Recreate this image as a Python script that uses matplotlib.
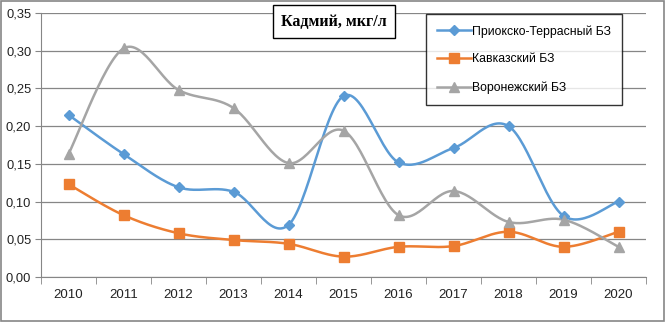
import numpy as np
import matplotlib
matplotlib.use("Agg")
import matplotlib.pyplot as plt
from matplotlib.lines import Line2D
from matplotlib.patches import Rectangle

years = ["2010", "2011", "2012", "2013", "2014", "2015", "2016", "2017", "2018", "2019", "2020"]
prioksko = [0.215, 0.163, 0.119, 0.113, 0.069, 0.240, 0.152, 0.171, 0.200, 0.081, 0.100]
kavkazsky = [0.123, 0.082, 0.058, 0.049, 0.044, 0.027, 0.040, 0.041, 0.060, 0.040, 0.060]
voronezh = [0.163, 0.303, 0.248, 0.224, 0.151, 0.194, 0.082, 0.114, 0.073, 0.076, 0.040]
names = ["Приокско-Террасный БЗ", "Кавказский БЗ", "Воронежский БЗ"]
colors = ["#5B9BD5", "#ED7D31", "#A5A5A5"]
markers = ["D", "s", "^"]
msizes = [5, 7, 7]
yticks = [0.00, 0.05, 0.10, 0.15, 0.20, 0.25, 0.30, 0.35]

plt.rcParams['font.family'] = ['Liberation Sans', 'DejaVu Sans']


def smooth(x, y, n=30):
    # Excel-like smoothing: Catmull-Rom Bezier through points
    x = np.asarray(x, float); y = np.asarray(y, float)
    px = np.concatenate([[x[0]], x, [x[-1]]])
    py = np.concatenate([[y[0]], y, [y[-1]]])
    xs, ys = [], []
    t = np.linspace(0, 1, n)
    for i in range(1, len(px) - 2):
        p0 = np.array([px[i], py[i]]); p3 = np.array([px[i + 1], py[i + 1]])
        c1 = p0 + (np.array([px[i + 1], py[i + 1]]) - np.array([px[i - 1], py[i - 1]])) / 6
        c2 = p3 - (np.array([px[i + 2], py[i + 2]]) - np.array([px[i], py[i]])) / 6
        b = ((1 - t) ** 3)[:, None] * p0 + (3 * (1 - t) ** 2 * t)[:, None] * c1 + \
            (3 * (1 - t) * t ** 2)[:, None] * c2 + (t ** 3)[:, None] * p3
        xs.extend(b[:, 0]); ys.extend(b[:, 1])
    return np.array(xs), np.array(ys)


W, H = 665, 322
fig = plt.figure(figsize=(W / 100, H / 100), dpi=100)
ax = fig.add_axes([41 / W, 1 - 277 / H, 605 / W, 264 / H])
x = np.arange(len(years))
for vals, c, m, ms, nm in zip([prioksko, kavkazsky, voronezh], colors, markers, msizes, names):
    sx, sy = smooth(x, vals)
    ax.plot(sx, sy, color=c, lw=1.8, zorder=3)
    ax.plot(x, vals, ls='none', marker=m, color=c, ms=ms, zorder=4)

ax.set_xlim(-0.5, len(years) - 0.5)
ax.set_ylim(0, 0.35)
ax.set_yticks(yticks)
ax.set_yticklabels([f"{v:.2f}".replace('.', ',') for v in yticks], fontsize=9.3, color='#222222')
ax.set_xticks(x)
ax.set_xticklabels(years, fontsize=9.5, color='#222222')
ax.set_xticks(np.arange(-0.5, len(years), 1), minor=True)
ax.tick_params(axis='x', which='major', length=0, pad=9)
ax.tick_params(axis='x', which='minor', length=5, color='#868686')
ax.tick_params(axis='y', length=4, color='#868686', pad=3)
ax.grid(axis='y', color='#868686', lw=0.9)
ax.set_axisbelow(True)
for s in ['top', 'right']:
    ax.spines[s].set_visible(False)
for s in ['left', 'bottom']:
    ax.spines[s].set_color('#868686')

# title box
fig.patches.append(Rectangle((273 / W, 1 - 38 / H), 122 / W, 33 / H, transform=fig.transFigure,
                             fc='white', ec='black', lw=1.0, zorder=9))
fig.text(334 / W, 1 - 22 / H, "Кадмий, мкг/л", ha='center', va='center', fontsize=11.5,
         fontweight='bold', family=['Liberation Serif', 'DejaVu Serif'], zorder=10)

handles = [Line2D([0], [0], color=c, marker=m, ms=ms, lw=1.8) for c, m, ms in zip(colors, markers, msizes)]
leg = ax.legend(handles, names, loc='upper left', bbox_to_anchor=((426 - 41) / 605, 1 - (14 - 13) / 264),
                frameon=True, fancybox=False, edgecolor='black', fontsize=8.8, labelspacing=1.3,
                handlelength=2.8, handletextpad=0.1, borderpad=0.9, borderaxespad=0)
leg.get_frame().set_linewidth(1.0)
leg.set_zorder(10)

fig.patches.append(Rectangle((0.002, 0.004), 0.996, 0.992, transform=fig.transFigure,
                             fill=False, ec='#868686', lw=1.2))
fig.savefig("out.png", dpi=100)
